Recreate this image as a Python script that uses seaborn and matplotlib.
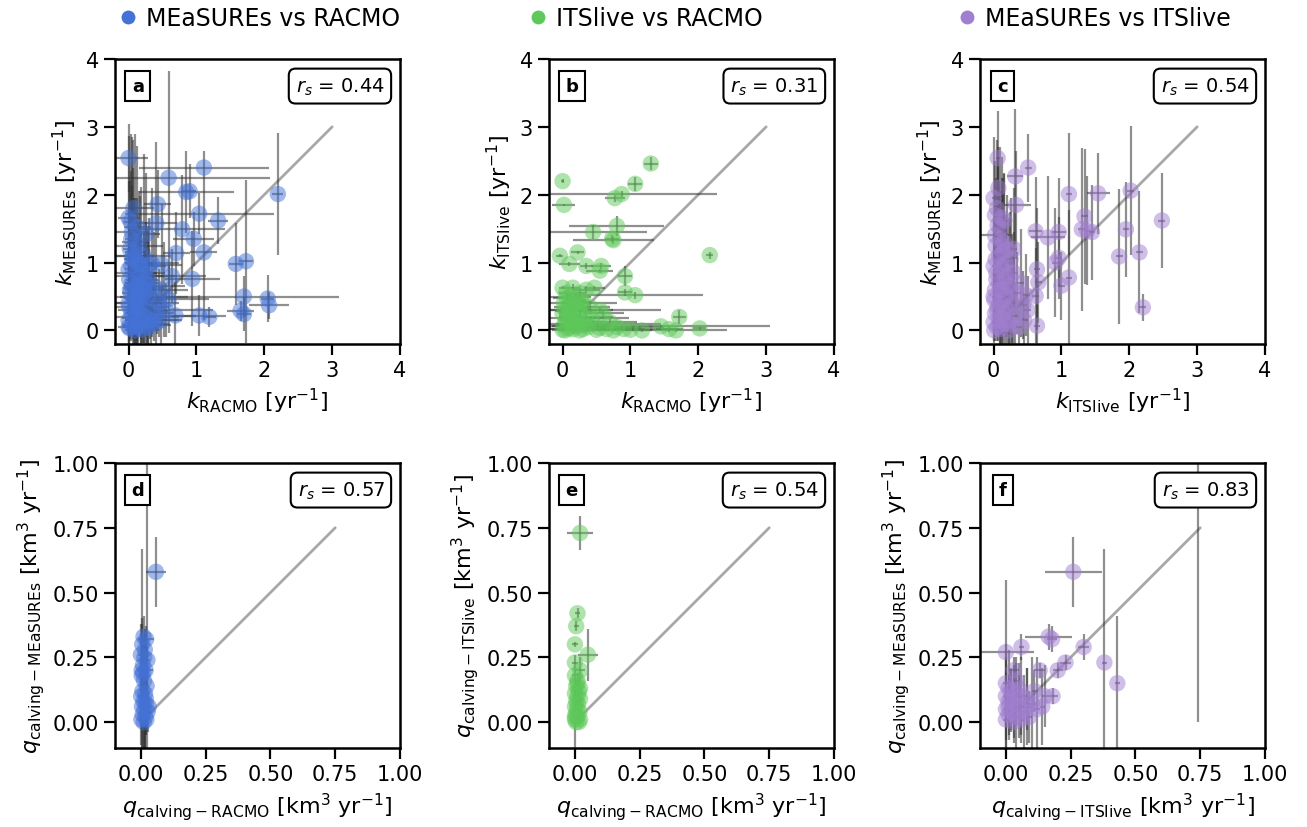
import matplotlib
matplotlib.use("Agg")
import matplotlib.pyplot as plt
from matplotlib.lines import Line2D
import seaborn as sns
import numpy as np

# ---------------- data ----------------
# Panel a: k MEaSUREs vs k RACMO
a_x = [0.00, 1.11, 0.59, 0.85, 0.90, 2.20, 0.43, 0.07, 0.00, 1.04, 1.32, 0.79, 0.96, 1.11, 1.58, 1.73, 0.94, 1.70, 2.05, 2.07,
       1.65, 1.70, 1.19, 1.04, 0.69, 0.49, 0.34, 0.70, 0.64, 0.59, 0.41,
       0.05, 0.10, 0.02, 0.15, 0.22, 0.08, 0.30, 0.00, 0.12, 0.18, 0.25, 0.05, 0.38, 0.02, 0.15, 0.28, 0.08, 0.45, 0.00, 0.20,
       0.12, 0.33, 0.04, 0.25, 0.10, 0.00, 0.18, 0.40, 0.06, 0.14, 0.02, 0.28, 0.09, 0.20, 0.00, 0.35, 0.52, 0.55, 0.48, 0.03,
       0.13, 0.26, 0.07, 0.17, 0.01, 0.22, 0.11,
       0.04, 0.09, 0.14, 0.19, 0.24, 0.29, 0.03, 0.08, 0.13, 0.18, 0.23, 0.01, 0.06, 0.11, 0.16, 0.21, 0.27, 0.32, 0.04, 0.10,
       0.15, 0.36, 0.42, 0.30, 0.05, 0.12]
a_y = [2.54, 2.40, 2.25, 2.04, 2.05, 2.01, 1.86, 1.80, 1.66, 1.72, 1.62, 1.49, 1.35, 1.15, 0.98, 1.02, 0.76, 0.50, 0.47, 0.37,
       0.29, 0.24, 0.20, 0.22, 0.22, 0.97, 1.00, 1.14, 0.80, 0.46, 1.58,
       1.45, 1.30, 1.20, 1.25, 1.10, 1.05, 0.95, 0.90, 0.85, 0.80, 0.70, 0.70, 0.65, 0.60, 0.55, 0.50, 0.45, 0.40, 0.40, 0.35,
       0.30, 0.28, 0.25, 0.20, 0.18, 0.15, 0.12, 0.10, 0.08, 0.05, 0.03, 0.04, 0.00, 0.01, 0.05, 0.15, 0.60, 0.30, 0.15, 1.60,
       1.52, 1.42, 1.10, 0.98, 0.75, 0.62, 0.68,
       1.35, 1.15, 1.00, 0.92, 0.85, 0.75, 0.55, 0.50, 0.42, 0.48, 0.55, 0.35, 0.25, 0.40, 0.32, 0.22, 0.12, 0.08, 0.95, 0.62,
       0.70, 0.45, 0.25, 0.60, 1.05, 0.05]
a_xerr = [0.28, 0.96, 1.50, 0.70, 0.10, 0.08, 0.20, 0.30, 0.15, 1.10, 0.15, 0.63, 0.30, 0.20, 0.10, 0.10, 0.40, 1.40, 0.10, 0.30,
          0.20, 0.10, 0.10, 0.40, 0.30, 0.30, 0.40, 0.20, 0.50, 0.60, 0.30,
          0.25, 0.20, 0.10, 0.35, 0.40, 0.15, 0.25, 0.05, 0.30, 0.50, 0.20, 0.10, 0.45, 0.08, 0.25, 0.60, 0.12, 0.30, 0.20, 0.40,
          0.15, 0.25, 0.08, 0.50, 0.20, 0.05, 0.10, 0.20, 0.15, 0.30, 0.05, 0.15, 0.10, 0.25, 0.03, 0.40, 0.35, 0.70, 0.30, 0.10,
          0.20, 0.20, 0.30, 0.20, 0.05, 0.30, 0.10,
          0.10, 0.15, 0.20, 0.10, 0.30, 0.15, 0.05, 0.20, 0.10, 0.25, 0.15, 0.05, 0.10, 0.40, 0.15, 0.20, 0.10, 0.30, 0.05, 0.10,
          0.20, 0.15, 0.25, 0.10, 0.10, 0.20]
a_yerr = [0.50, 0.25, 1.58, 0.60, 0.40, 0.90, 0.50, 0.60, 1.20, 0.30, 0.35, 0.80, 0.40, 1.00, 0.60, 1.20, 0.70, 0.30, 0.35, 0.20,
          0.15, 0.25, 0.15, 0.30, 0.50, 0.90, 1.10, 0.60, 0.40, 0.50, 1.20,
          1.40, 1.60, 1.00, 0.80, 1.50, 0.90, 0.70, 1.30, 1.10, 0.60, 0.90, 0.50, 0.80, 0.70, 0.40, 1.00, 0.60, 0.50, 0.80, 0.30,
          0.50, 0.60, 0.40, 0.30, 0.70, 0.30, 0.40, 0.30, 0.20, 0.35, 0.15, 0.25, 0.10, 0.20, 0.10, 0.20, 0.70, 0.40, 0.50, 1.30,
          1.20, 0.90, 1.70, 1.00, 1.00, 0.80, 0.60,
          1.00, 0.80, 0.60, 1.20, 0.50, 0.70, 0.40, 0.90, 0.30, 0.60, 0.50, 0.40, 0.30, 0.80, 0.20, 0.40, 0.30, 0.20, 0.90, 0.50,
          0.70, 0.40, 0.30, 0.60, 1.10, 0.20]

# Panel b: k ITSlive vs k RACMO
b_x = [0.00, 0.02, 1.30, 1.07, 0.87, 0.77, 0.45, 0.80, 0.75, 0.73, -0.04, 0.22, 0.10, 0.35, 0.57, 0.55, 0.92, 2.17, 0.92, 1.07,
       1.72, 2.02, 1.57, 1.67, 1.00, 1.17, 1.45, 0.47, 0.00, 0.15,
       0.05, 0.12, 0.20, 0.30, 0.02, 0.08, 0.40, 0.15, 0.25, 0.55, 0.00, 0.10, 0.35, 0.60, 0.18, 0.05, 0.28, 0.45, 0.70, 0.12,
       0.02, 0.22, 0.38, 0.55, 0.80, 0.08, 0.15, 0.30, 0.65, 0.00, 0.04, 0.25, 0.50, 0.75, 0.90, 0.06, 0.25, 0.35, 0.18,
       0.03, 0.09, 0.14, 0.20, 0.27, 0.33, 0.42, 0.07, 0.16, 0.24]
b_y = [2.20, 1.85, 2.46, 2.16, 2.01, 1.95, 1.45, 1.54, 1.33, 1.35, 1.10, 1.15, 0.98, 0.95, 0.95, 0.88, 0.80, 1.11, 0.56, 0.52,
       0.20, 0.03, 0.02, 0.00, 0.01, 0.00, 0.06, 0.63, 0.63, 0.63,
       0.55, 0.50, 0.45, 0.40, 0.40, 0.35, 0.35, 0.30, 0.28, 0.30, 0.25, 0.22, 0.20, 0.25, 0.18, 0.15, 0.12, 0.10, 0.12, 0.10,
       0.08, 0.06, 0.05, 0.04, 0.05, 0.03, 0.02, 0.02, 0.02, 0.01, 0.00, 0.00, 0.01, 0.00, 0.02, 0.48, 0.55, 0.60, 0.38,
       0.32, 0.28, 0.15, 0.10, 0.42, 0.08, 0.18, 0.20, 0.07, 0.33]
b_xerr = [0.02, 0.17, 0.10, 0.10, 1.40, 0.15, 0.80, 0.70, 0.60, 0.10, 0.05, 0.10, 0.15, 0.10, 0.15, 0.20, 0.10, 0.05, 0.10, 1.00,
          0.10, 0.10, 0.20, 0.75, 0.10, 0.15, 1.60, 0.15, 0.05, 0.10,
          0.10, 0.30, 0.15, 0.50, 0.05, 0.20, 0.30, 0.60, 0.20, 0.90, 0.05, 0.15, 0.40, 0.30, 0.80, 0.10, 0.25, 1.00, 0.40, 0.20,
          0.08, 0.50, 0.30, 0.60, 0.70, 0.10, 0.35, 0.90, 0.20, 0.05, 0.20, 0.15, 0.40, 0.25, 0.80, 0.20, 0.10, 0.20, 0.10,
          0.05, 0.20, 0.10, 0.30, 0.15, 0.40, 0.20, 0.10, 0.25, 0.15]
b_yerr = [0.03, 0.02, 0.10, 0.10, 0.05, 0.05, 0.10, 0.15, 0.05, 0.05, 0.02, 0.02, 0.03, 0.05, 0.05, 0.03, 0.15, 0.05, 0.05, 0.05,
          0.10, 0.02, 0.05, 0.02, 0.02, 0.02, 0.02, 0.03, 0.02, 0.05,
          0.03, 0.05, 0.10, 0.05, 0.03, 0.05, 0.08, 0.05, 0.10, 0.05, 0.02, 0.05, 0.05, 0.05, 0.03, 0.02, 0.05, 0.05, 0.05, 0.02,
          0.02, 0.03, 0.02, 0.03, 0.02, 0.02, 0.02, 0.02, 0.02, 0.01, 0.01, 0.01, 0.01, 0.01, 0.02, 0.05, 0.08, 0.05, 0.03,
          0.03, 0.05, 0.02, 0.03, 0.05, 0.02, 0.03, 0.04, 0.02, 0.03]

# Panel c: k MEaSUREs vs k ITSlive
c_x = [0.06, 0.51, 0.32, 1.11, 1.54, 2.02, 0.33, 0.12, 1.34, 1.30, 1.38, 1.45, 1.95, 2.48, 0.80, 0.96, 0.91, 0.96, 1.11, 1.00,
       1.85, 2.15, 2.20, 0.62, 0.64, 0.66, 0.62, 0.64,
       0.00, 0.05, 0.10, 0.02, 0.15, 0.20, 0.08, 0.25, 0.00, 0.12, 0.30, 0.18, 0.04, 0.40, 0.22, 0.09, 0.35, 0.00, 0.14, 0.28,
       0.44, 0.06, 0.20, 0.02, 0.32, 0.11, 0.45, 0.00, 0.17, 0.26, 0.05, 0.38, 0.10, 0.01, 0.22, 0.48, 0.50, 0.03, 0.16, 0.07,
       0.02, 0.06, 0.10, 0.14, 0.18, 0.24, 0.03, 0.08, 0.13, 0.19, 0.27, 0.01, 0.05, 0.09, 0.15, 0.21, 0.04, 0.12, 0.30, 0.08,
       0.16, 0.23, 0.02, 0.11]
c_y = [2.54, 2.40, 2.27, 2.01, 2.02, 2.06, 1.85, 1.66, 1.68, 1.49, 1.47, 1.45, 1.49, 1.62, 1.37, 1.45, 1.00, 1.07, 0.78, 0.66,
       1.09, 1.15, 0.34, 1.46, 0.90, 0.71, 0.51, 0.07,
       1.95, 1.80, 1.50, 1.40, 1.30, 1.20, 1.10, 1.05, 0.95, 0.90, 0.85, 0.80, 0.75, 0.70, 0.65, 0.60, 0.55, 0.50, 0.45, 0.40,
       0.38, 0.35, 0.30, 0.25, 0.22, 0.20, 0.15, 0.12, 0.10, 0.08, 0.05, 0.05, 0.02, 0.00, 0.00, 0.52, 0.30, 1.25, 1.62, 2.10,
       1.70, 1.55, 1.35, 1.15, 1.00, 0.85, 1.05, 0.70, 0.60, 0.50, 0.62, 0.45, 0.30, 0.40, 0.25, 0.15, 0.85, 1.25, 1.20, 0.15,
       0.72, 0.35, 0.60, 0.95]
c_xerr = [0.03, 0.05, 0.12, 0.05, 0.17, 0.05, 0.22, 0.05, 0.05, 0.05, 0.05, 0.05, 0.05, 0.05, 0.25, 0.10, 0.05, 0.05, 0.05, 0.05,
          0.05, 0.05, 0.05, 0.10, 0.05, 0.05, 0.05, 0.05,
          0.02, 0.03, 0.05, 0.20, 0.05, 0.04, 0.03, 0.05, 0.02, 0.03, 0.06, 0.10, 0.02, 0.05, 0.04, 0.03, 0.05, 0.02, 0.03, 0.05,
          0.05, 0.02, 0.04, 0.02, 0.05, 0.03, 0.05, 0.02, 0.03, 0.04, 0.02, 0.05, 0.03, 0.02, 0.04, 0.05, 0.05, 0.02, 0.05, 0.03,
          0.02, 0.03, 0.05, 0.03, 0.04, 0.05, 0.02, 0.03, 0.03, 0.05, 0.04, 0.02, 0.03, 0.03, 0.04, 0.03, 0.02, 0.03, 0.05, 0.03,
          0.03, 0.04, 0.02, 0.03]
c_yerr = [0.70, 0.50, 1.00, 0.90, 0.60, 0.95, 0.80, 0.90, 1.00, 1.20, 0.80, 0.70, 0.70, 0.70, 0.90, 0.80, 0.80, 0.60, 1.00, 0.50,
          1.00, 0.90, 0.20, 0.80, 0.90, 0.60, 0.70, 0.30,
          0.90, 1.00, 1.20, 0.80, 1.00, 0.80, 1.10, 0.90, 0.70, 1.30, 0.60, 0.90, 0.60, 0.80, 1.00, 0.70, 0.60, 0.40, 0.90, 0.70,
          0.50, 0.50, 0.60, 0.40, 0.50, 0.40, 0.40, 0.30, 0.50, 0.30, 0.20, 0.40, 0.25, 0.15, 0.20, 0.60, 0.50, 1.00, 0.70, 0.60,
          0.80, 1.00, 0.70, 1.10, 0.60, 0.90, 0.80, 0.60, 0.70, 0.50, 0.80, 0.40, 0.30, 0.60, 0.30, 0.20, 0.70, 1.00, 0.90, 0.20,
          0.60, 0.40, 0.50, 0.80]

# Panel d: q MEaSUREs vs q RACMO
d_x = [0.058, 0.025, 0.003, 0.010, 0.020, 0.005, 0.015, 0.000, 0.025, 0.008, 0.018, 0.003, 0.012, 0.022, 0.006, 0.016,
       0.001, 0.010, 0.020, 0.004, 0.014, 0.026, 0.007, 0.017, 0.002, 0.011, 0.021, 0.009, 0.013, 0.019, 0.030]
d_y = [0.58, 1.30, 0.20, 0.33, 0.32, 0.30, 0.28, 0.26, 0.24, 0.22, 0.20, 0.18, 0.16, 0.14, 0.12, 0.11,
       0.10, 0.08, 0.07, 0.06, 0.05, 0.04, 0.03, 0.02, 0.01, 0.00, 0.01, 0.19, 0.25, 0.09, 0.06]
d_xerr = [0.040, 0.005, 0.003, 0.010, 0.030, 0.010, 0.010, 0.010, 0.010, 0.010, 0.030, 0.010, 0.010, 0.010, 0.010, 0.010,
          0.010, 0.010, 0.010, 0.010, 0.010, 0.010, 0.010, 0.010, 0.010, 0.010, 0.010, 0.010, 0.010, 0.010, 0.010]
d_yerr = [0.135, 1.40, 0.47, 0.08, 0.05, 0.10, 0.06, 0.12, 0.05, 0.08, 0.10, 0.20, 0.12, 0.08, 0.15, 0.25,
          0.10, 0.18, 0.12, 0.22, 0.15, 0.08, 0.20, 0.14, 0.10, 0.12, 0.06, 0.09, 0.07, 0.10, 0.03]

# Panel e: q ITSlive vs q RACMO
e_x = [0.020, 0.010, 0.005, 0.000, 0.050, 0.000, 0.020, 0.000, 0.010, 0.005, 0.015, 0.000, 0.010, 0.020, 0.005, 0.012,
       0.000, 0.008, 0.018, 0.003, 0.010, 0.000, 0.015, 0.005, 0.020, 0.000, 0.010, 0.020]
e_y = [0.73, 0.42, 0.37, 0.30, 0.26, 0.23, 0.20, 0.18, 0.16, 0.14, 0.12, 0.11, 0.10, 0.09, 0.08, 0.07,
       0.06, 0.05, 0.04, 0.03, 0.02, 0.01, 0.00, 0.00, 0.01, 0.02, 0.15, 0.13]
e_xerr = [0.050, 0.010, 0.010, 0.010, 0.040, 0.010, 0.020, 0.010, 0.010, 0.005, 0.010, 0.005, 0.010, 0.010, 0.005, 0.010,
          0.005, 0.010, 0.010, 0.005, 0.010, 0.005, 0.010, 0.005, 0.010, 0.005, 0.005, 0.010]
e_yerr = [0.065, 0.020, 0.020, 0.010, 0.100, 0.030, 0.050, 0.020, 0.030, 0.020, 0.020, 0.010, 0.030, 0.020, 0.010, 0.020,
          0.010, 0.020, 0.020, 0.010, 0.010, 0.010, 0.010, 0.010, 0.010, 0.150, 0.020, 0.020]

# Panel f: q MEaSUREs vs q ITSlive
f_x = [0.26, 0.165, 0.178, 0.30, 0.23, 0.20, 0.13, 0.38, 0.43, 0.18, 0.00, 0.06, 0.03, 0.74,
       0.00, 0.01, 0.02, 0.04, 0.00, 0.06, 0.08, 0.01, 0.03, 0.10, 0.05, 0.00, 0.02, 0.07, 0.12, 0.01,
       0.04, 0.00, 0.09, 0.03, 0.06, 0.15, 0.14, 0.02, 0.05, 0.08, 0.11, 0.01, 0.04]
f_y = [0.58, 0.33, 0.32, 0.29, 0.23, 0.20, 0.20, 0.23, 0.15, 0.10, 0.27, 0.29, 0.20, 1.25,
       0.15, 0.13, 0.12, 0.11, 0.10, 0.10, 0.09, 0.08, 0.07, 0.07, 0.06, 0.05, 0.04, 0.04, 0.05, 0.03,
       0.02, 0.01, 0.02, 0.00, 0.01, 0.10, 0.06, 0.09, 0.13, 0.06, 0.12, 0.06, 0.16]
f_xerr = [0.11, 0.09, 0.02, 0.02, 0.02, 0.02, 0.02, 0.01, 0.01, 0.02, 0.11, 0.01, 0.02, 0.00,
          0.01, 0.01, 0.02, 0.01, 0.01, 0.02, 0.01, 0.01, 0.01, 0.02, 0.01, 0.01, 0.01, 0.01, 0.01, 0.01,
          0.01, 0.01, 0.01, 0.01, 0.01, 0.01, 0.01, 0.01, 0.01, 0.02, 0.01, 0.01, 0.01]
f_yerr = [0.135, 0.05, 0.05, 0.05, 0.03, 0.03, 0.03, 0.44, 0.26, 0.03, 0.28, 0.05, 0.05, 1.25,
          0.10, 0.15, 0.08, 0.12, 0.20, 0.15, 0.12, 0.10, 0.15, 0.18, 0.12, 0.15, 0.08, 0.14, 0.20, 0.10,
          0.12, 0.08, 0.10, 0.06, 0.09, 0.12, 0.15, 0.12, 0.10, 0.15, 0.08, 0.11, 0.09]

rs_values = ["0.44", "0.31", "0.54", "0.57", "0.54", "0.83"]
panel_letters = ["a", "b", "c", "d", "e", "f"]
legend_labels = ["MEaSUREs vs RACMO", "ITSlive vs RACMO", "MEaSUREs vs ITSlive"]

# ---------------- style ----------------
sns.set_theme(style="ticks")
plt.rcParams["font.family"] = ["DejaVu Sans"]
plt.rcParams["mathtext.fontset"] = "dejavusans"
for k in ["text.color", "axes.labelcolor", "xtick.color", "ytick.color", "axes.edgecolor"]:
    plt.rcParams[k] = "black"

colors = ["#4472d6", "#5ec85a", "#a07fd0"]

fig = plt.figure(figsize=(13.07, 8.28), dpi=100)

W, H = 1307.0, 828.0
col_left = [115, 549, 980]
row_top = [60, 464]
size = 285

panels = [
    (a_x, a_y, a_xerr, a_yerr, 0, r"$k_{\mathrm{RACMO}}$ [yr$^{-1}$]", r"$k_{\mathrm{MEaSUREs}}$ [yr$^{-1}$]"),
    (b_x, b_y, b_xerr, b_yerr, 1, r"$k_{\mathrm{RACMO}}$ [yr$^{-1}$]", r"$k_{\mathrm{ITSlive}}$ [yr$^{-1}$]"),
    (c_x, c_y, c_xerr, c_yerr, 2, r"$k_{\mathrm{ITSlive}}$ [yr$^{-1}$]", r"$k_{\mathrm{MEaSUREs}}$ [yr$^{-1}$]"),
    (d_x, d_y, d_xerr, d_yerr, 0, r"$q_{\mathrm{calving-RACMO}}$ [km$^3$ yr$^{-1}$]",
     r"$q_{\mathrm{calving-MEaSUREs}}$ [km$^3$ yr$^{-1}$]"),
    (e_x, e_y, e_xerr, e_yerr, 1, r"$q_{\mathrm{calving-RACMO}}$ [km$^3$ yr$^{-1}$]",
     r"$q_{\mathrm{calving-ITSlive}}$ [km$^3$ yr$^{-1}$]"),
    (f_x, f_y, f_xerr, f_yerr, 2, r"$q_{\mathrm{calving-ITSlive}}$ [km$^3$ yr$^{-1}$]",
     r"$q_{\mathrm{calving-MEaSUREs}}$ [km$^3$ yr$^{-1}$]"),
]

for i, (x, y, xe, ye, ci, xl, yl) in enumerate(panels):
    row, col = divmod(i, 3)
    left = col_left[col] / W
    bottom = 1 - (row_top[row] + size) / H
    ax = fig.add_axes([left, bottom, size / W, size / H])
    if row == 0:
        ax.plot([0, 3], [0, 3], color="#a8a8a8", lw=2, zorder=1)
    else:
        ax.plot([0, 0.75], [0, 0.75], color="#a8a8a8", lw=2, zorder=1)
    ax.errorbar(x, y, xerr=xe, yerr=ye, fmt="none", ecolor="#333333",
                alpha=0.55, elinewidth=1.6, capsize=0, zorder=2)
    sns.scatterplot(x=x, y=y, ax=ax, color=colors[ci], s=140, alpha=0.5,
                    edgecolor="none", linewidth=0, zorder=3)
    if row == 0:
        ax.set_xlim(-0.2, 4)
        ax.set_ylim(-0.2, 4)
        ax.set_xticks([0, 1, 2, 3, 4])
        ax.set_yticks([0, 1, 2, 3, 4])
    else:
        ax.set_xlim(-0.1, 1.0)
        ax.set_ylim(-0.1, 1.0)
        ax.set_xticks([0, 0.25, 0.5, 0.75, 1.0])
        ax.set_yticks([0, 0.25, 0.5, 0.75, 1.0])
        ax.set_xticklabels(["0.00", "0.25", "0.50", "0.75", "1.00"])
        ax.set_yticklabels(["0.00", "0.25", "0.50", "0.75", "1.00"])
    ax.set_xlabel(xl, fontsize=16, labelpad=4)
    ax.set_ylabel(yl, fontsize=16, labelpad=4)
    ax.tick_params(axis="both", labelsize=15, length=8, width=1.6, direction="out")
    for sp in ax.spines.values():
        sp.set_linewidth(1.8)
        sp.set_color("black")
    ax.text(0.08, 0.905, panel_letters[i], transform=ax.transAxes, fontsize=13,
            fontweight="bold", ha="center", va="center",
            bbox=dict(boxstyle="square,pad=0.35", fc="white", ec="black", lw=1.5), zorder=6)
    ax.text(0.945, 0.905, r"$r_s$ = " + rs_values[i], transform=ax.transAxes, fontsize=14,
            ha="right", va="center",
            bbox=dict(boxstyle="round,pad=0.35", fc="white", ec="black", lw=1.5), zorder=6)

# legend across the top
leg_x = [116, 526, 955]
for lab, c, lx in zip(legend_labels, colors, leg_x):
    h = Line2D([0], [0], marker="o", color="none", markerfacecolor=c, markeredgecolor="none",
               markersize=10)
    fig.legend(handles=[h], labels=[lab], loc="center left",
               bbox_to_anchor=(lx / W, 1 - 19 / H), frameon=False, fontsize=17,
               handlelength=1.0, handletextpad=0.25, borderpad=0, borderaxespad=0)

fig.savefig("out.png", dpi=100)
